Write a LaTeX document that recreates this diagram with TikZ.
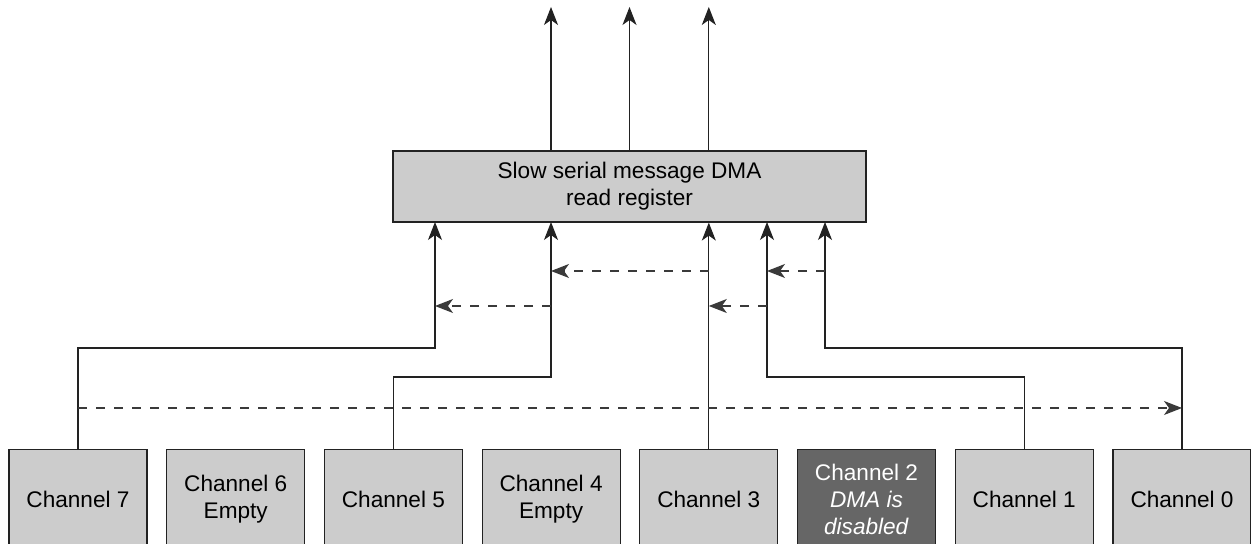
\documentclass[tikz,border=0pt]{standalone}
\usepackage{fontspec}
\setmainfont{Liberation Sans}
\usetikzlibrary{arrows.meta}
\definecolor{chanfill}{HTML}{CCCCCC}
\definecolor{deadfill}{HTML}{666666}
\definecolor{wireink}{HTML}{222222}
\definecolor{dashink}{HTML}{3A3A3A}

\begin{document}
\begin{tikzpicture}[
  x=0.5pt,
  y=0.5pt,
  every node/.style={font=\fontsize{11.3}{13.5}\selectfont, align=center},
  chan/.style={draw=wireink, line width=0.6pt, fill=chanfill, anchor=north,
               minimum width=69pt, minimum height=50pt, inner sep=0pt},
  dead/.style={chan, fill=deadfill, text=white},
  regbox/.style={draw=wireink, line width=0.6pt, fill=chanfill,
                 minimum width=236.5pt, minimum height=35.5pt, inner sep=0pt},
  feed/.style={wireink, line width=0.6pt,
               -{Stealth[length=9pt, width=7pt, inset=2.5pt]}},
  handoff/.style={dashink, line width=0.6pt, dash pattern=on 4.5pt off 4.5pt,
                  -{Stealth[length=9pt, width=7pt, inset=2.5pt]}}
]
  \useasboundingbox (0,0) rectangle (1251,544);

  % ---- the eight channels ------------------------------------------------
  \node[chan] (ch7) at (78,95)    {Channel 7};
  \node[chan] (ch6) at (235.7,95) {Channel 6\\Empty};
  \node[chan] (ch5) at (393.4,95) {Channel 5};
  \node[chan] (ch4) at (551.1,95) {Channel 4\\Empty};
  \node[chan] (ch3) at (708.8,95) {Channel 3};
  \node[dead] (ch2) at (866.5,95) {Channel 2\\\textit{DMA is}\\\textit{disabled}};
  \node[chan] (ch1) at (1024.2,95) {Channel 1};
  \node[chan] (ch0) at (1182,95)  {Channel 0};

  % ---- register ----------------------------------------------------------
  \node[regbox] (reg) at (629.5,357.5)
    {Slow serial message DMA\\read register};

  % inputs on the bottom of the register
  \coordinate (r7) at (435,322);
  \coordinate (r5) at (551,322);
  \coordinate (r3) at (ch3.north |- reg.south);
  \coordinate (r1) at (767,322);
  \coordinate (r0) at (825,322);

  % outputs on top
  \coordinate (o1) at (551,537);
  \coordinate (o2) at (629.5,537);
  \coordinate (o3) at (708.8,537);

  % levels of the dashed hand-over lines
  \coordinate (upper) at (0,273);
  \coordinate (lower) at (0,238);
  \coordinate (cross) at (0,136);

  % ---- channel feeds -----------------------------------------------------
  \draw[feed] (ch7.north) -- ++(0,101) -| (r7);
  \draw[feed] (ch5.north) -- ++(0,72) -| (r5);
  \draw[feed] (ch3.north) -- (r3);
  \draw[feed] (ch1.north) -- ++(0,72) -| (r1);
  \draw[feed] (ch0.north) -- ++(0,101) -| (r0);

  % ---- register outputs --------------------------------------------------
  \foreach \o in {o1, o2, o3}
    \draw[feed] (reg.north -| \o) -- (\o);

  % ---- hand-over between feeds -------------------------------------------
  \draw[handoff] (r3 |- upper) -- (r5 |- upper);
  \draw[handoff] (r0 |- upper) -- (r1 |- upper);
  \draw[handoff] (r5 |- lower) -- (r7 |- lower);
  \draw[handoff] (r1 |- lower) -- (r3 |- lower);
  \draw[handoff] (ch7.north |- cross) -- (ch0.north |- cross);
\end{tikzpicture}
\end{document}
